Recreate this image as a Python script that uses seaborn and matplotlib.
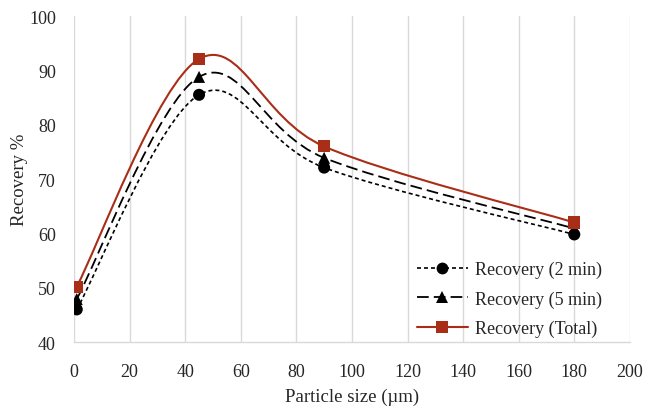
import numpy as np
import pandas as pd
import matplotlib
matplotlib.use("Agg")
import matplotlib.pyplot as plt
from matplotlib.path import Path
from matplotlib.patches import PathPatch
from matplotlib.lines import Line2D
import seaborn as sns

# Particle size (µm) and recovery values (%)
particle_size = [1, 45, 90, 180]
recovery_2min = [46.0, 85.5, 72.1, 59.8]
recovery_5min = [47.9, 88.8, 73.9, 60.9]
recovery_total = [50.2, 92.1, 76.0, 62.0]

series_names = ["Recovery (2 min)", "Recovery (5 min)", "Recovery (Total)"]
x_ticks = [0, 20, 40, 60, 80, 100, 120, 140, 160, 180, 200]
y_ticks = [40, 50, 60, 70, 80, 90, 100]

sns.set_style("white")
plt.rcParams["font.family"] = ["Liberation Serif", "DejaVu Serif"]
plt.rcParams["font.size"] = 13

fig = plt.figure(figsize=(6.54, 4.10), dpi=100)
ax = fig.add_axes([0.1131, 0.1634, 0.850, 0.795])

red = "#A92E17"
styles = {
    "Recovery (2 min)": dict(color="black", lw=1.2, dashes=(2.4, 1.8), marker="o", ms=8.5),
    "Recovery (5 min)": dict(color="black", lw=1.3, dashes=(6.5, 2.8), marker="^", ms=8),
    "Recovery (Total)": dict(color=red, lw=1.5, dashes=None, marker="s", ms=8),
}

df = pd.DataFrame({
    "size": particle_size * 3,
    "recovery": recovery_2min + recovery_5min + recovery_total,
    "series": [n for n in series_names for _ in particle_size],
})


def smooth_path(xs, ys):
    """Cubic Bezier path through the points (Catmull-Rom style tangents)."""
    pts = np.column_stack([xs, ys]).astype(float)
    n = len(pts)
    verts = [tuple(pts[0])]
    codes = [Path.MOVETO]
    for i in range(n - 1):
        p0 = pts[max(i - 1, 0)]
        p1 = pts[i]
        p2 = pts[i + 1]
        p3 = pts[min(i + 2, n - 1)]
        c1 = p1 + (p2 - p0) / 6.0
        c2 = p2 - (p3 - p1) / 6.0
        verts += [tuple(c1), tuple(c2), tuple(p2)]
        codes += [Path.CURVE4] * 3
    return Path(verts, codes)


for z, name in enumerate(series_names):
    st = styles[name]
    sub = df[df["series"] == name]
    patch = PathPatch(smooth_path(sub["size"], sub["recovery"]), fill=False,
                      edgecolor=st["color"], lw=st["lw"], zorder=2 + z,
                      capstyle="butt")
    if st["dashes"] is not None:
        patch.set_linestyle((0, st["dashes"]))
    ax.add_patch(patch)

sns.scatterplot(data=df, x="size", y="recovery", hue="series", style="series",
                palette={n: styles[n]["color"] for n in series_names},
                markers={n: styles[n]["marker"] for n in series_names},
                s=75, edgecolor="none", legend=False, ax=ax, zorder=6)

ax.set_xlim(0, 200)
ax.set_ylim(40, 100)
ax.set_xticks(x_ticks)
ax.set_yticks(y_ticks)
ax.set_xlabel("Particle size (µm)", fontsize=13.5, labelpad=6)
ax.set_ylabel("Recovery %", fontsize=13.5, labelpad=1)
ax.tick_params(axis="both", length=0, labelsize=13)
ax.tick_params(axis="x", pad=15)
ax.tick_params(axis="y", pad=13)

ax.grid(axis="x", color="#D9D9D9", lw=1.0)
ax.grid(axis="y", visible=False)
for side in ["top", "right", "left"]:
    ax.spines[side].set_visible(False)
ax.spines["bottom"].set_color("#D9D9D9")
ax.spines["bottom"].set_linewidth(1.0)

handles = []
for name in series_names:
    st = styles[name]
    h = Line2D([], [], color=st["color"], lw=st["lw"], marker=st["marker"],
               markersize=st["ms"], markeredgewidth=0)
    if st["dashes"] is not None:
        h.set_dashes(st["dashes"])
    handles.append(h)
ax.legend(handles, series_names, loc="lower right", bbox_to_anchor=(0.966, -0.012),
          frameon=False, handlelength=2.8, handletextpad=0.4, labelspacing=0.66,
          fontsize=13, borderaxespad=0.1)

fig.savefig("out.png", dpi=100)
